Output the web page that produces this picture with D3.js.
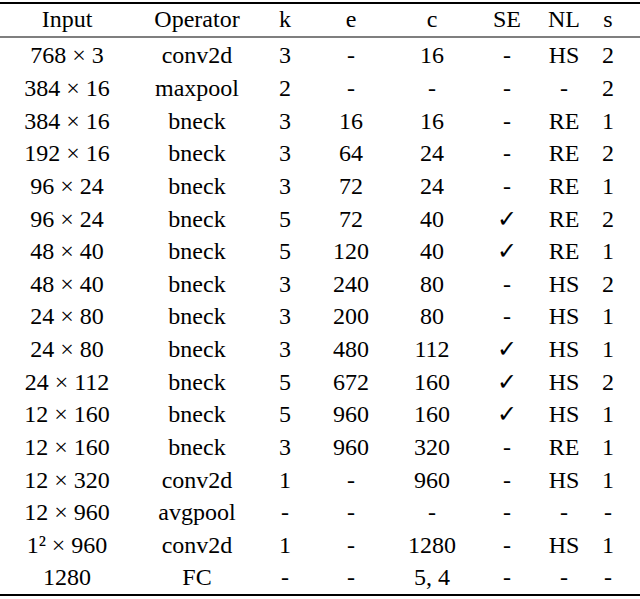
<!DOCTYPE html>
<html><head><meta charset="utf-8">
<script src="https://cdn.jsdelivr.net/npm/d3@7"></script>
<style>body{margin:0;background:#fff} svg text{font-family:"Liberation Serif","Times New Roman",Times,serif;}</style>
</head><body><div id="chart"></div>
<script>
const headers = ["Input", "Operator", "k", "e", "c", "SE", "NL", "s"];
const inputs = ["768 × 3","384 × 16","384 × 16","192 × 16","96 × 24","96 × 24","48 × 40","48 × 40","24 × 80","24 × 80","24 × 112","12 × 160","12 × 160","12 × 320","12 × 960","1² × 960","1280"];
const operators = ["conv2d","maxpool","bneck","bneck","bneck","bneck","bneck","bneck","bneck","bneck","bneck","bneck","bneck","conv2d","avgpool","conv2d","FC"];
const kVals = ["3","2","3","3","3","5","5","3","3","3","5","5","3","1","-","1","-"];
const eVals = ["-","-","16","64","72","72","120","240","200","480","672","960","960","-","-","-","-"];
const cVals = ["16","-","16","24","24","40","40","80","80","112","160","160","320","960","-","1280","5, 4"];
const seVals = ["-","-","-","-","-","✓","✓","-","-","✓","✓","✓","-","-","-","-","-"];
const nlVals = ["HS","-","RE","RE","RE","RE","RE","HS","HS","HS","HS","HS","RE","HS","-","HS","-"];
const sVals = ["2","2","1","2","1","2","1","2","1","1","2","1","1","1","-","1","-"];

const columns = [inputs, operators, kVals, eVals, cVals, seVals, nlVals, sVals];
const colX = [67, 197, 285, 351, 432, 507, 564, 608];

const W = 640, H = 599;
const svg = d3.select("#chart").append("svg").attr("width", W).attr("height", H);

const rowY = d3.scaleLinear().domain([0, inputs.length - 1]).range([55, 577]);
const headerY = 19;

svg.append("line").attr("x1", 0).attr("x2", W).attr("y1", 3).attr("y2", 3)
  .attr("stroke", "#000").attr("stroke-width", 2.2);
svg.append("line").attr("x1", 0).attr("x2", W).attr("y1", 37).attr("y2", 37)
  .attr("stroke", "#000").attr("stroke-width", 1.2);
svg.append("line").attr("x1", 0).attr("x2", W).attr("y1", 595).attr("y2", 595)
  .attr("stroke", "#000").attr("stroke-width", 2.2);

svg.append("g").selectAll("text").data(headers).join("text")
  .attr("x", (d, i) => colX[i]).attr("y", headerY)
  .attr("dy", "0.35em").attr("text-anchor", "middle")
  .attr("font-size", 24).text(d => d);

columns.forEach((col, ci) => {
  svg.append("g").selectAll("text").data(col).join("text")
    .attr("x", colX[ci]).attr("y", (d, i) => rowY(i))
    .attr("dy", "0.35em").attr("text-anchor", "middle")
    .attr("font-size", 24).text(d => d);
});
</script></body></html>
